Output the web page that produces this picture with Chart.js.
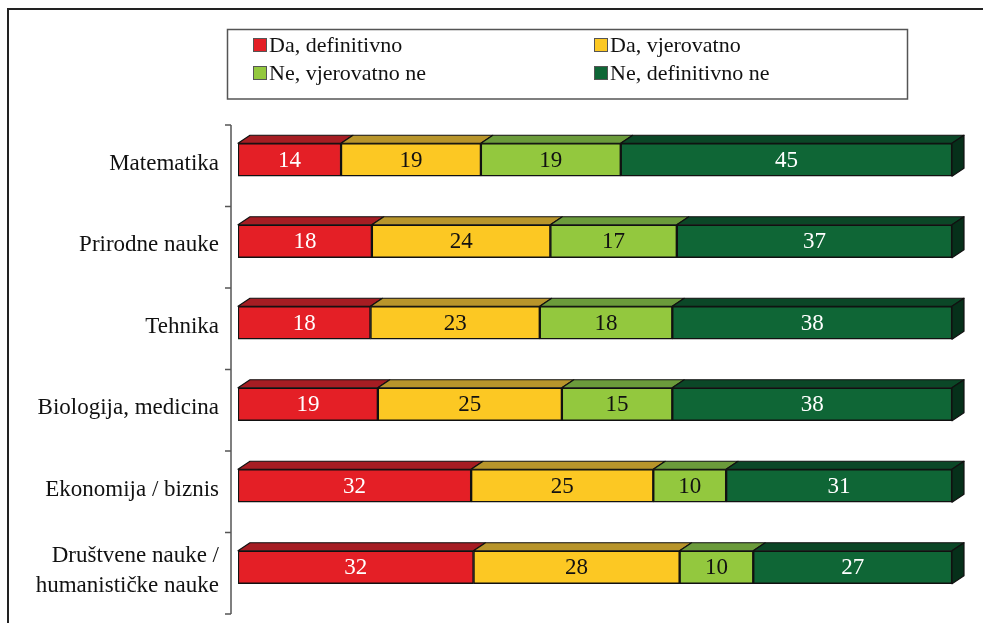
<!DOCTYPE html>
<html>
<head>
<meta charset="utf-8">
<script src="https://cdn.jsdelivr.net/npm/chart.js@4.4.1/dist/chart.umd.min.js"></script>
<style>
  html, body { margin: 0; padding: 0; background: #fff; overflow: hidden; }
  #wrap { position: relative; width: 983px; height: 623px; }
</style>
</head>
<body>
<div id="wrap"><canvas id="chart"></canvas></div>
<script>
// Categories (top to bottom) and the four answer series, in percent
const categories = [
    'Matematika',
    'Prirodne nauke',
    'Tehnika',
    'Biologija, medicina',
    'Ekonomija / biznis',
    ['Društvene nauke /', 'humanističke nauke']
];
const seriesNames = ['Da, definitivno', 'Da, vjerovatno', 'Ne, vjerovatno ne', 'Ne, definitivno ne'];
const daDefinitivno = [14, 18, 18, 19, 32, 32];
const daVjerovatno = [19, 24, 23, 25, 25, 28];
const neVjerovatno = [19, 17, 18, 15, 10, 10];
const neDefinitivno = [45, 37, 38, 38, 31, 27];

const frontColors = ['#E41F26', '#FCC823', '#93C83E', '#0F6636'];
const topColors = ['#A61D23', '#B8952B', '#6B9B3B', '#0B4727'];
const sideColor = '#06301A';
const valueColors = ['#ffffff', '#111111', '#111111', '#ffffff'];

const FONT = "'Liberation Serif', 'DejaVu Serif', serif";
const DEPTH_X = 12;
const DEPTH_Y = 8;

const rawSeries = [daDefinitivno, daVjerovatno, neVjerovatno, neDefinitivno];
const rowTotals = categories.map((c, i) => rawSeries.reduce((s, arr) => s + arr[i], 0));
// each row is stretched to 100 % like a 100 % stacked bar
const toShare = values => values.map((v, i) => v / rowTotals[i] * 100);

// outer frame, legend box and the category axis
const decorPlugin = {
    id: 'decor',
    beforeDraw(chart) {
        const ctx = chart.ctx;
        ctx.save();
        ctx.fillStyle = '#fff';
        ctx.fillRect(0, 0, chart.width, chart.height);

        ctx.strokeStyle = '#222';
        ctx.lineWidth = 2;
        ctx.beginPath();
        ctx.moveTo(8, chart.height + 2);
        ctx.lineTo(8, 9);
        ctx.lineTo(chart.width + 2, 9);
        ctx.stroke();

        // legend
        ctx.strokeStyle = '#555';
        ctx.lineWidth = 1.5;
        ctx.strokeRect(227.5, 29.5, 680, 69.5);
        const colX = [253, 594];
        const rowY = [38, 66];
        ctx.font = '22px ' + FONT;
        ctx.textBaseline = 'middle';
        ctx.textAlign = 'left';
        chart.data.datasets.forEach((ds, d) => {
            const x = colX[d % 2];
            const y = rowY[Math.floor(d / 2)];
            ctx.fillStyle = frontColors[d];
            ctx.fillRect(x, y, 14, 14);
            ctx.strokeStyle = '#555';
            ctx.lineWidth = 1;
            ctx.strokeRect(x + 0.5, y + 0.5, 13, 13);
            ctx.fillStyle = '#111';
            ctx.fillText(ds.label, x + 16, y + 8);
        });

        // category axis with tick marks between the categories
        const yScale = chart.scales.y;
        const step = (yScale.bottom - yScale.top) / categories.length;
        const ax = chart.chartArea.left - 7;
        const shift = 6;
        ctx.strokeStyle = '#555';
        ctx.lineWidth = 1.5;
        ctx.beginPath();
        ctx.moveTo(ax, yScale.top + shift);
        ctx.lineTo(ax, yScale.bottom + shift);
        for (let k = 0; k <= categories.length; k++) {
            const ty = yScale.top + shift + k * step;
            ctx.moveTo(ax - 6, ty);
            ctx.lineTo(ax, ty);
        }
        ctx.stroke();
        ctx.restore();
    }
};

// top and side faces for the 3D look, plus the value labels
const depthPlugin = {
    id: 'depth',
    afterDatasetsDraw(chart) {
        const ctx = chart.ctx;
        const last = chart.data.datasets.length - 1;
        ctx.save();
        ctx.lineWidth = 1.2;
        ctx.strokeStyle = '#111';
        ctx.lineJoin = 'round';
        chart.data.datasets.forEach((ds, d) => {
            const meta = chart.getDatasetMeta(d);
            meta.data.forEach(bar => {
                const { x, y, base, height } = bar.getProps(['x', 'y', 'base', 'height'], true);
                const top = y - height / 2;
                const bottom = y + height / 2;
                ctx.fillStyle = topColors[d];
                ctx.beginPath();
                ctx.moveTo(base, top);
                ctx.lineTo(base + DEPTH_X, top - DEPTH_Y);
                ctx.lineTo(x + DEPTH_X, top - DEPTH_Y);
                ctx.lineTo(x, top);
                ctx.closePath();
                ctx.fill();
                ctx.stroke();
                if (d === last) {
                    ctx.fillStyle = sideColor;
                    ctx.beginPath();
                    ctx.moveTo(x, top);
                    ctx.lineTo(x + DEPTH_X, top - DEPTH_Y);
                    ctx.lineTo(x + DEPTH_X, bottom - DEPTH_Y);
                    ctx.lineTo(x, bottom);
                    ctx.closePath();
                    ctx.fill();
                    ctx.stroke();
                }
            });
        });

        ctx.font = '23px ' + FONT;
        ctx.textAlign = 'center';
        ctx.textBaseline = 'middle';
        chart.data.datasets.forEach((ds, d) => {
            const meta = chart.getDatasetMeta(d);
            meta.data.forEach((bar, i) => {
                const { x, y, base } = bar.getProps(['x', 'y', 'base'], true);
                ctx.fillStyle = valueColors[d];
                ctx.fillText(String(rawSeries[d][i]), (base + x) / 2, y + 1);
            });
        });
        ctx.restore();
    }
};

const ctx = document.getElementById('chart');
new Chart(ctx, {
    type: 'bar',
    data: {
        labels: categories,
        datasets: rawSeries.map((values, d) => ({
            label: seriesNames[d],
            data: toShare(values),
            backgroundColor: frontColors[d],
            borderColor: '#111',
            borderWidth: 1.5,
            borderSkipped: false,
            barThickness: 33
        }))
    },
    options: {
        indexAxis: 'y',
        responsive: true,
        maintainAspectRatio: false,
        devicePixelRatio: 1,
        animation: false,
        layout: { padding: { left: 0, right: 31, top: 119, bottom: 15 } },
        plugins: {
            legend: { display: false },
            tooltip: { enabled: false }
        },
        scales: {
            x: { stacked: true, min: 0, max: 100, display: false },
            y: {
                stacked: true,
                grid: { display: false },
                border: { display: false },
                ticks: {
                    color: '#111',
                    padding: 11,
                    labelOffset: 4,
                    font: { family: FONT, size: 23, lineHeight: 1.3 }
                },
                afterFit(scale) {
                    scale.width = 238;
                    scale.paddingTop = 0;
                    scale.paddingBottom = 0;
                }
            }
        }
    },
    plugins: [decorPlugin, depthPlugin]
});
</script>
</body>
</html>
